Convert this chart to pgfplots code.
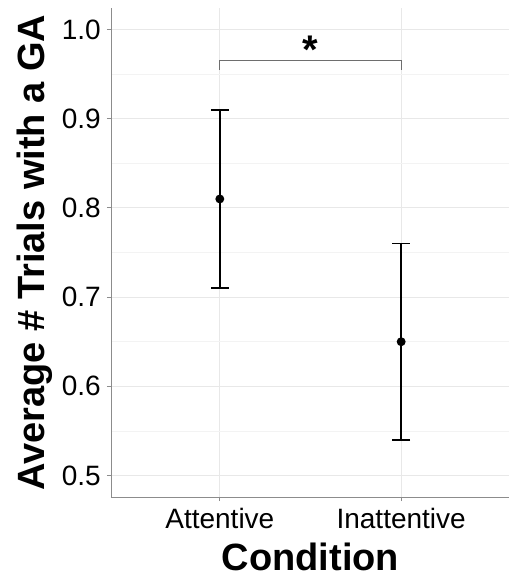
\documentclass[border=0pt]{standalone}
\usepackage{fontspec}
\setmainfont{Liberation Sans}
\usepackage{pgfplots}
\pgfplotsset{compat=1.18}
\definecolor{gridmaj}{HTML}{E8E8E8}
\definecolor{gridmin}{HTML}{F3F3F3}
\definecolor{axisgray}{HTML}{8C8C8C}
\definecolor{brk}{HTML}{6E6E6E}
\begin{document}
\begin{tikzpicture}
\begin{axis}[
  at={(0,0)}, anchor=south west,
  scale only axis, width=399pt, height=489pt,
  xmin=-0.6, xmax=1.6, ymin=0.476, ymax=1.024,
  xtick={0,1}, xticklabels={Attentive,Inattentive},
  ytick={0.5,0.6,0.7,0.8,0.9,1.0},
  minor ytick={0.55,0.65,0.75,0.85,0.95},
  yticklabel={\pgfmathprintnumber[fixed,fixed zerofill,precision=1]{\tick}},
  /pgf/number format/assume math mode=true,
  axis x line*=bottom, axis y line*=left,
  axis line style={axisgray, line width=0.8pt, -},
  tick align=outside, major tick length=4pt, minor tick length=0pt,
  tick style={axisgray, line width=0.8pt},
  grid=both,
  major grid style={gridmaj, line width=0.8pt},
  minor grid style={gridmin, line width=0.6pt},
  ticklabel style={font=\fontsize{28}{30}\selectfont, text=black},
  yticklabel style={anchor=east, inner sep=0pt, xshift=-6pt},
  xticklabel style={anchor=base, inner sep=0pt, yshift=-27pt},
  xlabel={Condition},
  ylabel={Average \# Trials with a GA},
  xlabel style={font=\fontsize{38}{40}\selectfont\bfseries, at={(axis description cs:0.5,0)}, anchor=base, yshift=-73pt},
  ylabel style={font=\fontsize{38}{40}\selectfont\bfseries, at={(axis description cs:0,0.5)}, anchor=center, yshift=76pt},
  clip=false,
]
\addplot[black, line width=1.6pt, mark=*, mark size=3.6pt, only marks,
  error bars/.cd, y dir=both, y explicit, error mark=|,
  error mark options={black, line width=1.6pt, mark size=9pt},
  error bar style={black, line width=1.6pt}]
  coordinates {(0,0.81) +- (0,0.10) (1,0.65) +- (0,0.11)};
\addplot[brk, line width=1.1pt, mark=none] coordinates {(0,0.955) (0,0.965) (1,0.965) (1,0.955)};
\node[font=\fontsize{40}{40}\selectfont\bfseries, anchor=center] at (axis cs:0.5,0.977) {*};
\end{axis}
\pgfresetboundingbox
\path[use as bounding box] (-111pt,-85pt) rectangle (398pt,497pt);
\end{tikzpicture}
\end{document}
